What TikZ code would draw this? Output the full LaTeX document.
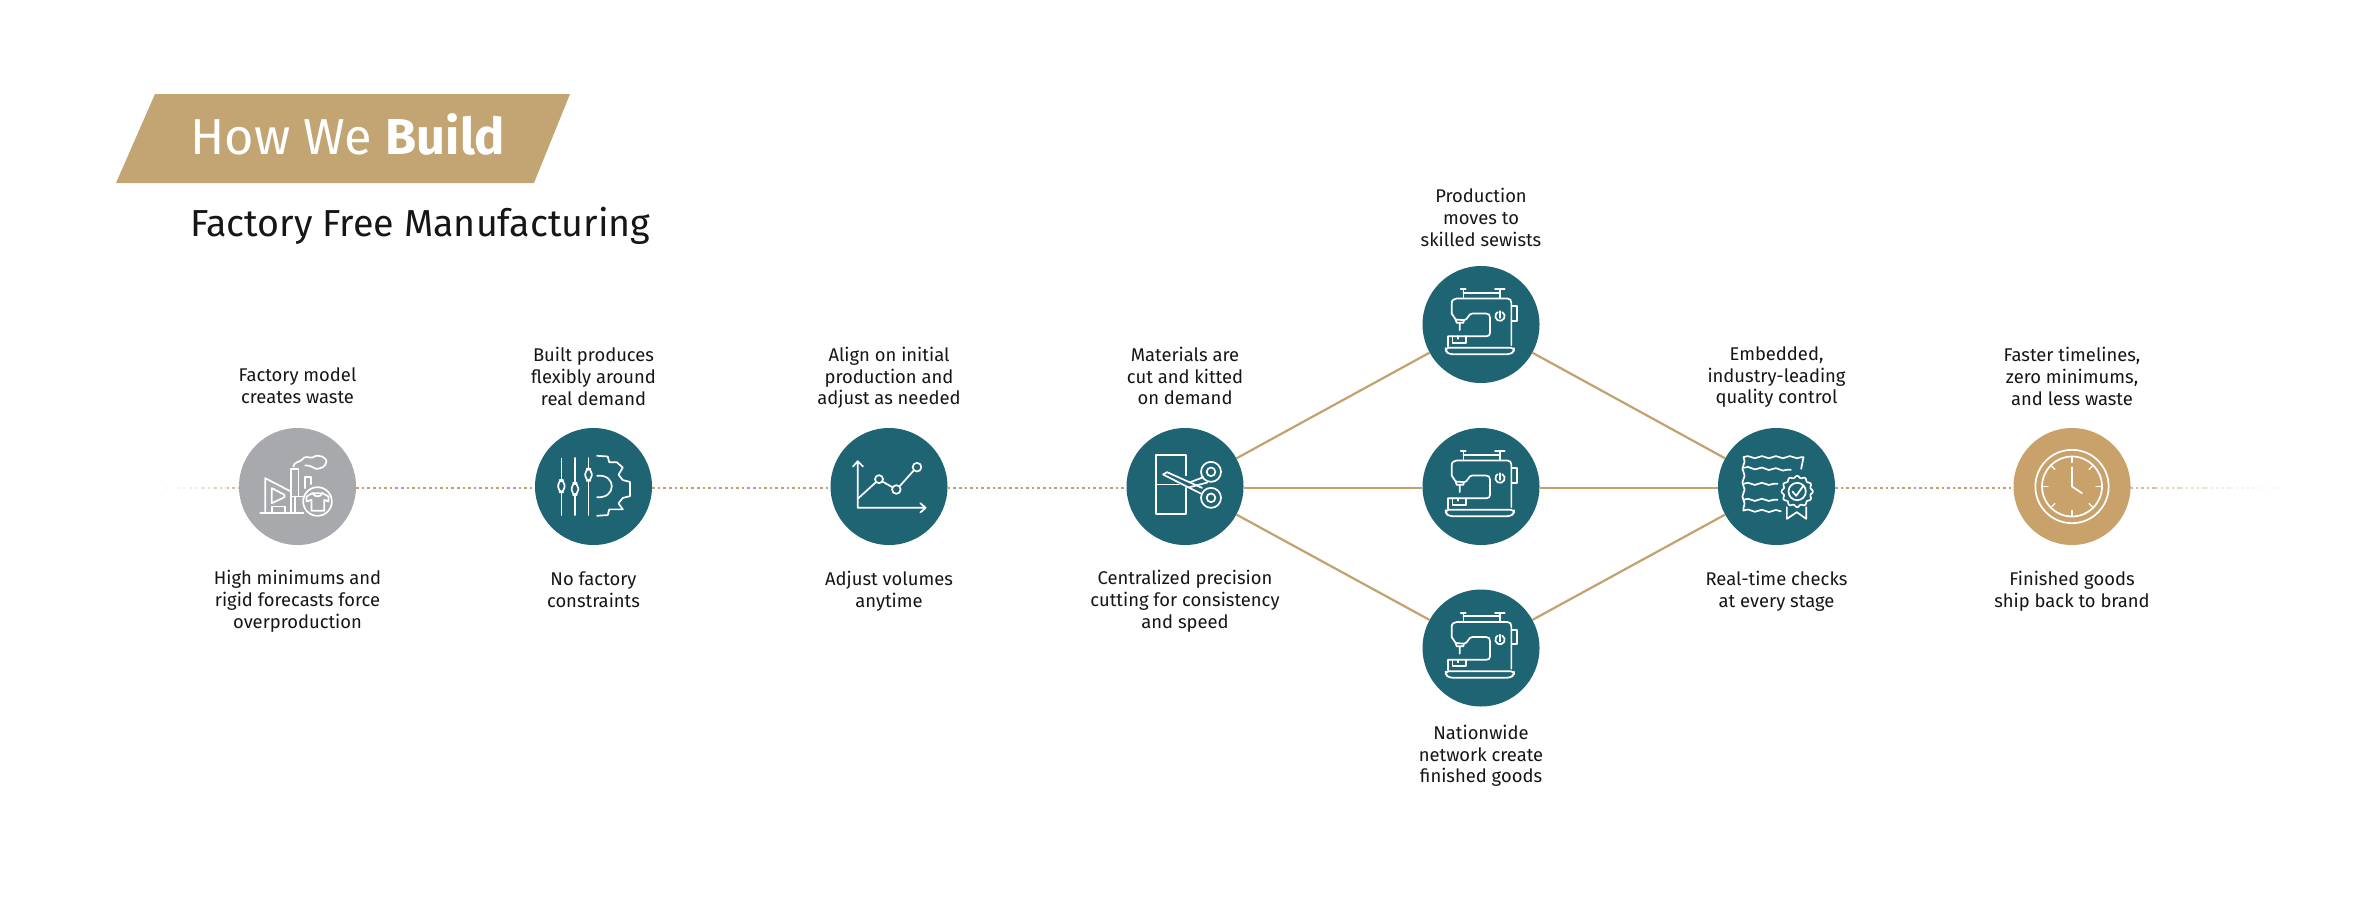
\documentclass[tikz,border=0pt]{standalone}
\usepackage{fontspec}
\setmainfont{Fira Sans}
\usetikzlibrary{decorations.pathmorphing}
\definecolor{teal}{HTML}{1F6473}
\definecolor{greyc}{HTML}{A7A9AC}
\definecolor{goldc}{HTML}{C9A26B}
\definecolor{banner}{HTML}{C3A573}
\definecolor{linegold}{HTML}{C2A26E}
\definecolor{ink}{HTML}{161616}
\tikzset{
 x=1pt,y=-1pt,
 circ/.style={circle,minimum size=117pt,inner sep=0pt,fill=#1},
 lab/.style={font=\fontsize{18.4}{21.7}\selectfont,text=ink,align=center,inner sep=0pt,execute at begin node=\strut,execute at end node=\strut,yshift=-2.6pt},
 dotline/.style={linegold,line width=2.8pt,dash pattern=on 2.6pt off 3pt},
 solidline/.style={linegold,line width=2.2pt},
 icon/.style={draw=white,line width=1.7pt,line join=round,line cap=round},
 wavy/.style={icon,decorate,decoration={snake,segment length=14pt,amplitude=1.1pt}},
 sewing/.pic={
  \begin{scope}[shift={(-241,-223)}]
  \draw[icon] (180,117)--(195,117) (283,117)--(312,117) (188,117)--(188,145) (297,117)--(297,145) (188,128)--(297,128);
  \draw[icon] (165,208)--(153,190)--(153,160) .. controls (153,150) and (160,145) .. (168,145)--(320,145) .. controls (328,145) and (332,150) .. (332,158)--(332,285);
  \draw[icon] (165,208)--(190,210) .. controls (202,210) and (202,190) .. (215,190)--(256,190) .. controls (264,190) and (268,194) .. (268,202)--(268,248) .. controls (268,255) and (264,258) .. (258,258)--(142,258)--(142,290);
  \draw[icon] (165,208)--(168,218)--(188,218)--(190,209) (177,218)--(177,240);
  \draw[icon] (155,258)--(155,278)--(195,278)--(195,258) (172,258)--(172,266);
  \draw[icon,rounded corners=3pt] (135,293)--(340,293)--(340,303)--(330,312)--(145,312)--(135,303)--cycle;
  \draw[icon] (305,186) arc[start angle=-60,end angle=240,radius=14];
  \draw[icon] (298,183)--(298,203);
  \draw[icon] (335,168)--(348,168)--(348,212)--(335,212);
  \end{scope}
 },
 factory/.pic={
  \begin{scope}[shift={(-217,-213)}]
  \draw[icon] (105,292)--(235,292);
  \draw[icon] (120,292)--(120,188)--(197,228);
  \draw[icon] (140,218)--(178,238)--(178,245)--(140,263)--cycle;
  \draw[icon] (140,292)--(140,273)--(180,273)--(180,292);
  \draw[icon] (197,292)--(197,160)--(220,160)--(220,243);
  \draw[icon] (197,243)--(234,243) (209,243)--(209,292);
  \draw[icon] (240,218)--(240,185)--(257,185)--(257,206);
  \draw[icon,fill=greyc] (277,258) circle (43);
  \draw[icon] (244,258)--(244,243)--(262,233)--(292,233)--(310,243)--(310,258)--(297,253)--(297,286)--(259,286)--(259,253)--cycle;
  \draw[icon] (262,233) .. controls (269,246) and (285,246) .. (292,233);
  \draw[icon] (205,153) .. controls (205,140) and (222,140) .. (230,133) .. controls (240,118) and (250,128) .. (262,126) .. controls (282,112) and (305,128) .. (304,138) .. controls (302,155) and (285,160) .. (272,160) .. controls (262,158) and (258,148) .. (240,150);
  \end{scope}
 },
 sliders/.pic={
  \begin{scope}[shift={(-1240,-258)}]
  \draw[icon] (1150,180)--(1150,240) (1150,274)--(1150,338) (1188,178)--(1188,248) (1188,282)--(1188,338) (1226,178)--(1226,208) (1226,242)--(1226,338);
  \draw[icon,rounded corners=5pt] (1141,240) rectangle (1159,274);
  \draw[icon,rounded corners=5pt] (1179,248) rectangle (1197,282);
  \draw[icon,rounded corners=5pt] (1217,208) rectangle (1235,242);
  \draw[icon] (1250,172)--(1280,174)--(1284,190)--(1305,190)--(1322,205)--(1310,225)--(1322,240)--(1342,245)--(1342,285)--(1322,290)--(1310,305)--(1322,322)--(1305,322)--(1284,322)--(1280,338)--(1250,340);
  \draw[icon] (1250,228) .. controls (1305,222) and (1305,292) .. (1250,288);
  \end{scope}
 },
 chart/.pic={
  \begin{scope}[shift={(-266,-258)}]
  \draw[icon] (172,182)--(172,322)--(376,322) (158,198)--(172,182)--(188,198) (360,308)--(376,322)--(360,336);
  \draw[icon] (172,295)--(227,245) (246,243)--(278,261) (298,257)--(340,210);
  \draw[icon] (236,236) circle (12) (288,267) circle (13) (350,200) circle (13);
  \end{scope}
 },
 scissor/.pic={
  \begin{scope}[shift={(-1154,-258)}]
  \draw[icon] (1158,225)--(1158,164)--(1066,164)--(1066,340)--(1158,340)--(1158,262);
  \draw[icon] (1066,252)--(1136,252);
  \draw[icon] (1088,222)--(1100,215)--(1205,262) (1088,222)--(1205,281);
  \draw[icon] (1170,245)--(1209,230) (1165,261)--(1221,246);
  \draw[icon] (1232,292) circle (30) (1232,292) circle (13) (1232,214) circle (30) (1232,214) circle (13);
  \end{scope}
 },
 certif/.pic={
  \begin{scope}[shift={(-229,-228)}]
  \draw[wavy] (130,140)--(310,140);
  \draw[wavy] (130,140)--(130,300);
  \draw[icon] (310,140)--(303,175);
  \draw[wavy] (130,172)--(272,178);
  \draw[wavy] (130,220)--(232,220);
  \draw[wavy] (130,268)--(232,268);
  \draw[wavy] (130,300)--(242,302);
  \draw[icon] plot[domain=0:360,samples=145,smooth] ({291+(44+3*cos(12*\x))*cos(\x)},{243+(44+3*cos(12*\x))*sin(\x)});
  \draw[icon] (291,243) circle (26);
  \draw[icon] (277,243)--(288,256)--(308,228);
  \draw[icon] (260,290)--(260,325)--(290,305)--(318,325)--(318,290);
  \end{scope}
 },
 clock/.pic={
  \begin{scope}[shift={(-1116,-228)}]
  \draw[icon] (1116,228) circle (110) (1116,228) circle (90);
  \foreach \a in {0,45,...,315}{
    \draw[icon,line width=1.2pt] ({1116+72*cos(\a)},{228+72*sin(\a)})--({1116+90*cos(\a)},{228+90*sin(\a)});
  }
  \draw[icon] (1116,170)--(1116,228)--(1146,248);
  \end{scope}
 },
}
\begin{document}
\begin{tikzpicture}
\useasboundingbox[fill=white] (0,0) rectangle (2371,916);
% banner
\fill[banner] (155,94)--(570,94)--(534,183)--(116,183)--cycle;
\node[anchor=base west,inner sep=0pt,text=white,font=\fontsize{50.5}{52}\selectfont] (title) at (190,154) {How We \textbf{Build}};
\node[anchor=base west,inner sep=0pt,text=ink,font=\fontsize{37.6}{40}\selectfont] (sub) at (190,236) {Factory Free Manufacturing};
% circles
\node[circ=greyc] (c1) at (297.5,486.5) {};
\node[circ=teal] (c2) at (593.5,486.5) {};
\node[circ=teal] (c3) at (889,486.5) {};
\node[circ=teal] (c4) at (1185,486.5) {};
\node[circ=teal] (t) at (1481,324.5) {};
\node[circ=teal] (m) at (1481,486.5) {};
\node[circ=teal] (b) at (1481,648) {};
\node[circ=teal] (c5) at (1776.5,486.5) {};
\node[circ=goldc] (c6) at (2072,486.5) {};
\coordinate (lend) at (165,488);
\coordinate (rend) at (2280,488);
% connectors
\foreach \i/\o in {0/.06,1/.12,2/.2,3/.32,4/.48,5/.7}{
  \draw[dotline,opacity=\o] ([xshift=\i*12.3pt]lend)--++(12,0);
  \draw[dotline,opacity=\o] ([xshift=-\i*25pt]rend)--++(-25,0);
}
\draw[dotline] ([yshift=-1.5pt]c1.east)--([yshift=-1.5pt]c2.west);
\draw[dotline] ([yshift=-1.5pt]c2.east)--([yshift=-1.5pt]c3.west);
\draw[dotline] ([yshift=-1.5pt]c3.east)--([yshift=-1.5pt]c4.west);
\draw[dotline] ([yshift=-1.5pt]c5.east)--([yshift=-1.5pt]c6.west);
\draw[solidline] (c4)--(t);
\draw[solidline] ([yshift=-1.5pt]c4.east)--([yshift=-1.5pt]m.west);
\draw[solidline] (c4)--(b);
\draw[solidline] (t)--(c5);
\draw[solidline] ([yshift=-1.5pt]m.east)--([yshift=-1.5pt]c5.west);
\draw[solidline] (b)--(c5);
% icons
\pic[scale=1/3] at (c1) {factory};
\pic[scale=1/2.8] at (c2) {sliders};
\pic[scale=1/3] at (c3) {chart};
\pic[scale=1/3] at (c4) {scissor};
\pic[scale=1/3] at (t) {sewing};
\pic[scale=1/3] at (m) {sewing};
\pic[scale=1/3] at (b) {sewing};
\pic[scale=1/3] at (c5) {certif};
\pic[scale=1/3] at (c6) {clock};
% labels
\node[lab] (a1) at (297.5,386.5) {Factory model\\creates waste};
\node[lab] (u1) at (297.5,600) {High minimums and\\rigid forecasts force\\overproduction};
\node[lab] (a2) at (593.5,377) {Built produces\\flexibly around\\real demand};
\node[lab] (u2) at (593.5,590) {No factory\\constraints};
\node[lab] (a3) at (889,376.5) {Align on initial\\production and\\adjust as needed};
\node[lab] (u3) at (889,590) {Adjust volumes\\anytime};
\node[lab] (a4) at (1185,376.5) {Materials are\\cut and kitted\\on demand};
\node[lab] (u4) at (1185,600) {Centralized precision\\cutting for consistency\\and speed};
\node[lab] (at) at (1481,218) {Production\\moves to\\skilled sewists};
\node[lab] (ub) at (1481,754.5) {Nationwide\\network create\\finished goods};
\node[lab] (a5) at (1776.5,376) {Embedded,\\industry-leading\\quality control};
\node[lab] (u5) at (1776.5,590) {Real-time checks\\at every stage};
\node[lab] (a6) at (2072,377) {Faster timelines,\\zero minimums,\\and less waste};
\node[lab] (u6) at (2072,590) {Finished goods\\ship back to brand};
\end{tikzpicture}
\end{document}
